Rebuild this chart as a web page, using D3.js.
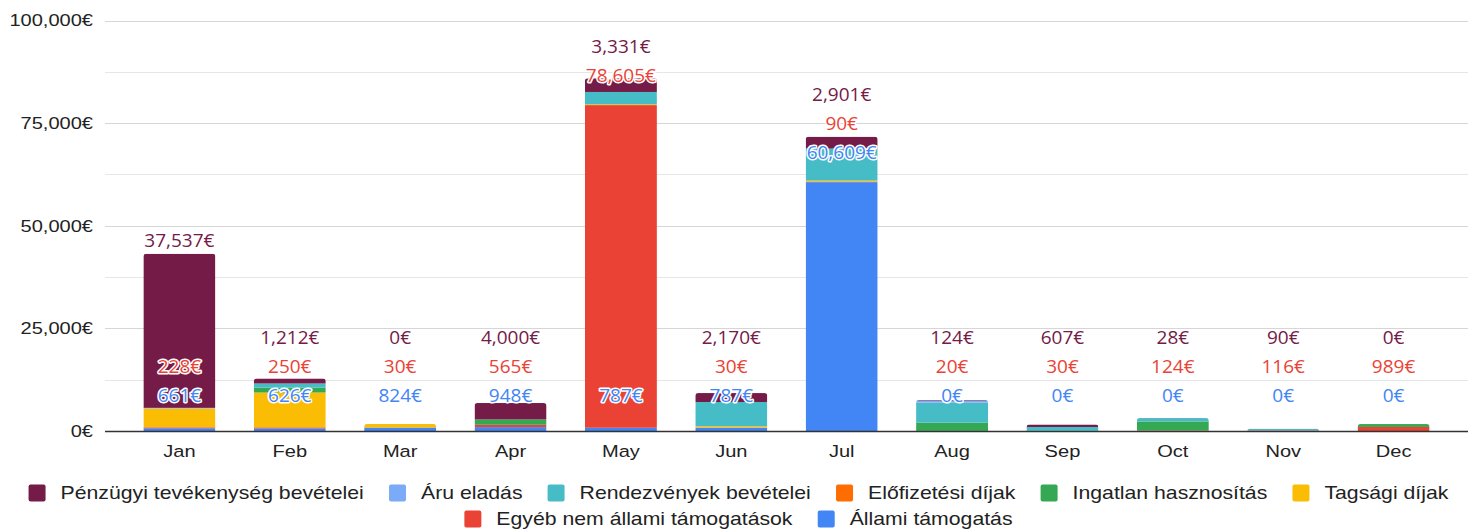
<!DOCTYPE html>
<html>
<head>
    <meta charset="utf-8">
    <title>Bevételek havonta</title>
    <script src="https://d3js.org/d3.v7.min.js"></script>
    <style>
        body {
            margin: 0;
            background: #fff;
        }
        svg text {
            font-family: "Liberation Sans", Arial, sans-serif;
        }
        .axis-text {
            font-size: 17px;
            fill: #222;
        }
        .legend-text {
            font-size: 18px;
            fill: #222;
        }
        .data-label {
            font-family: "Open Sans", sans-serif;
            font-size: 19px;
            paint-order: stroke;
            stroke: #fff;
            stroke-width: 3px;
            stroke-linejoin: round;
        }
    </style>
</head>
<body>
    <svg id="chart" width="1477" height="529"></svg>
    <script>
        const months = ['Jan', 'Feb', 'Mar', 'Apr', 'May', 'Jun', 'Jul', 'Aug', 'Sep', 'Oct', 'Nov', 'Dec'];

        // legend order
        const seriesNames = [
            'Pénzügyi tevékenység bevételei', 'Áru eladás', 'Rendezvények bevételei', 'Előfizetési díjak',
            'Ingatlan hasznosítás', 'Tagsági díjak', 'Egyéb nem állami támogatások', 'Állami támogatás'
        ];
        const seriesColors = ['#741b47', '#7baaf7', '#46bdc6', '#ff6d01', '#34a853', '#fbbc04', '#ea4335', '#4285f4'];

        const penzugyi   = [37537, 1212, 0, 4000, 3331, 2170, 2901, 124, 607, 28, 90, 0];
        const aru        = [150, 0, 0, 0, 0, 0, 0, 500, 0, 0, 0, 0];
        const rendezveny = [0, 1000, 0, 0, 3000, 5900, 7800, 4900, 950, 800, 350, 0];
        const elofizetes = [0, 0, 0, 0, 0, 0, 0, 0, 0, 0, 0, 0];
        const ingatlan   = [0, 1200, 0, 1300, 0, 0, 0, 2000, 0, 2200, 0, 700];
        const tagsagi    = [4600, 8500, 850, 0, 200, 350, 300, 0, 0, 0, 0, 0];
        const egyeb      = [228, 250, 30, 565, 78605, 30, 90, 20, 30, 124, 116, 989];
        const allami     = [661, 626, 824, 948, 787, 787, 60609, 0, 0, 0, 0, 0];

        const yTicks = [0, 12500, 25000, 37500, 50000, 62500, 75000, 87500, 100000];

        const seriesValues = [penzugyi, aru, rendezveny, elofizetes, ingatlan, tagsagi, egyeb, allami];
        const STRETCH = 1.18; // the axis / legend type is drawn wider than Arial

        const svg = d3.select('#chart');

        const x = d3.scaleBand()
            .domain(months)
            .range([105, 1468])
            .padding(0.348);

        const y = d3.scaleLinear()
            .domain([0, 100000])
            .range([431, 20.5]);

        const fmt = v => d3.format(',')(v) + '€';

        // gridlines
        svg.append('g')
            .selectAll('line')
            .data(yTicks.filter(d => d > 0))
            .enter()
            .append('line')
            .attr('x1', 105)
            .attr('x2', 1468)
            .attr('y1', d => Math.round(y(d)) + 0.5)
            .attr('y2', d => Math.round(y(d)) + 0.5)
            .attr('stroke', d => d % 25000 === 0 ? '#d6d6d6' : '#e6e6e6')
            .attr('stroke-width', 1.2);

        // y labels
        svg.append('g')
            .selectAll('text')
            .data(yTicks.filter(d => d % 25000 === 0))
            .enter()
            .append('text')
            .attr('class', 'axis-text')
            .attr('text-anchor', 'end')
            .attr('dy', '0.35em')
            .attr('transform', d => `translate(93,${y(d)}) scale(${STRETCH},1)`)
            .text(fmt);

        // stack: last legend series sits at the bottom
        const stackOrder = d3.range(seriesNames.length).reverse();
        const rows = months.map((m, i) => {
            const r = { month: m };
            seriesNames.forEach((s, k) => r[s] = seriesValues[k][i]);
            return r;
        });
        const stacked = d3.stack()
            .keys(stackOrder.map(k => seriesNames[k]))(rows);

        const totals = months.map((m, i) => d3.sum(seriesValues, s => s[i]));

        // rounded tops
        const defs = svg.append('defs');
        months.forEach((m, i) => {
            defs.append('clipPath')
                .attr('id', 'clip' + i)
                .append('rect')
                .attr('x', x(m))
                .attr('width', x.bandwidth())
                .attr('y', y(totals[i]))
                .attr('height', y(0) - y(totals[i]) + 6)
                .attr('rx', 3);
        });

        const barGroups = svg.append('g')
            .selectAll('g')
            .data(months)
            .enter()
            .append('g')
            .attr('clip-path', (d, i) => `url(#clip${i})`);

        barGroups.each(function (m, i) {
            d3.select(this)
                .selectAll('rect')
                .data(stacked)
                .enter()
                .append('rect')
                .attr('x', x(m))
                .attr('width', x.bandwidth())
                .attr('y', s => y(s[i][1]))
                .attr('height', s => y(s[i][0]) - y(s[i][1]))
                .attr('fill', s => seriesColors[seriesNames.indexOf(s.key)]);
        });

        // zero line
        svg.append('line')
            .attr('x1', 105)
            .attr('x2', 1468)
            .attr('y1', y(0) + 0.5)
            .attr('y2', y(0) + 0.5)
            .attr('stroke', '#333')
            .attr('stroke-width', 1.3);

        // x labels
        svg.append('g')
            .selectAll('text')
            .data(months)
            .enter()
            .append('text')
            .attr('class', 'axis-text')
            .attr('text-anchor', 'middle')
            .attr('transform', d => `translate(${x(d) + x.bandwidth() / 2},457) scale(${STRETCH},1)`)
            .text(d => d);

        // data labels for Állami, Egyéb and Pénzügyi, pushed apart when they collide
        const labelGroup = svg.append('g');
        months.forEach((m, i) => {
            const cx = x(m) + x.bandwidth() / 2;
            const blueTop = allami[i];
            const redTop = allami[i] + egyeb[i];
            const blueY = Math.min(y(0) - 36, y(blueTop) - 30);
            const redY = Math.min(blueY - 29, y(redTop) - 30);
            const maroonY = Math.min(redY - 29, y(totals[i]) - 13);
            [[allami[i], blueY, '#4285f4'], [egyeb[i], redY, '#ea4335'], [penzugyi[i], maroonY, '#741b47']]
                .forEach(([v, ly, c]) => {
                    labelGroup.append('text')
                        .attr('class', 'data-label')
                        .attr('x', cx)
                        .attr('y', ly)
                        .attr('dy', '0.35em')
                        .attr('text-anchor', 'middle')
                        .attr('fill', c)
                        .text(fmt(v));
                });
        });

        // legend
        const legend = svg.append('g');
        const sq = 17, sqGap = 15, itemGap = 25, maxW = 1440;
        const measure = legend.append('text').attr('class', 'legend-text');
        const widths = seriesNames.map(n => {
            measure.text(n);
            return measure.node().getComputedTextLength() * STRETCH + sq + sqGap;
        });
        measure.remove();

        const legendRows = [[]];
        let rowW = 0;
        seriesNames.forEach((n, k) => {
            const w = widths[k] + (legendRows[legendRows.length - 1].length ? itemGap : 0);
            if (rowW + w > maxW) {
                legendRows.push([]);
                rowW = widths[k];
            } else {
                rowW += w;
            }
            legendRows[legendRows.length - 1].push(k);
        });

        legendRows.forEach((row, r) => {
            const total = d3.sum(row, k => widths[k]) + itemGap * (row.length - 1);
            let cx = (1477 - total) / 2;
            const cy = 493 + r * 26;
            row.forEach(k => {
                legend.append('rect')
                    .attr('x', cx)
                    .attr('y', cy - sq / 2)
                    .attr('width', sq)
                    .attr('height', sq)
                    .attr('rx', 2)
                    .attr('fill', seriesColors[k]);
                legend.append('text')
                    .attr('class', 'legend-text')
                    .attr('dy', '0.35em')
                    .attr('transform', `translate(${cx + sq + sqGap},${cy}) scale(${STRETCH},1)`)
                    .text(seriesNames[k]);
                cx += widths[k] + itemGap;
            });
        });
    </script>
</body>
</html>
